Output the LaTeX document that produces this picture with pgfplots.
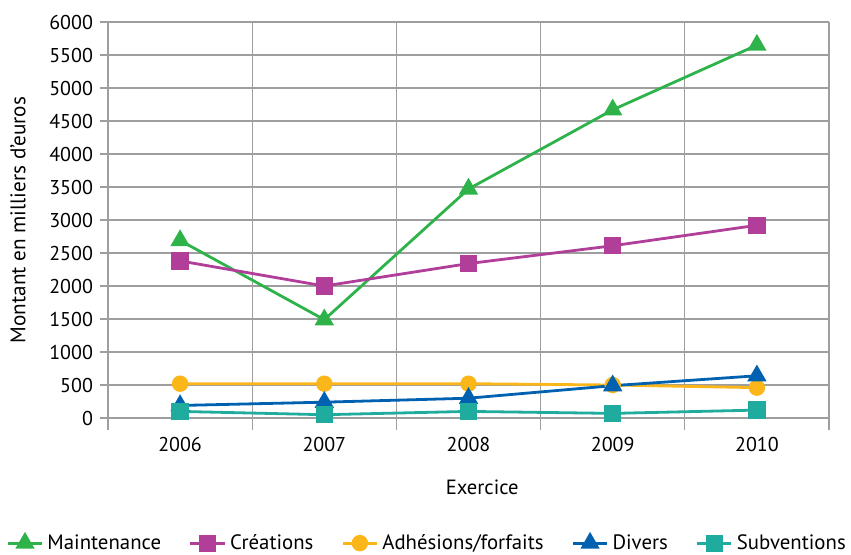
\documentclass[border=0pt]{standalone}
\usepackage{pgfplots}
\pgfplotsset{compat=1.18}
\usepackage{fontspec}
\setmainfont{PT Sans}

\definecolor{cMaint}{HTML}{2DB34A}
\definecolor{cCrea}{HTML}{B13F9A}
\definecolor{cAdh}{HTML}{FBB61A}
\definecolor{cDiv}{HTML}{0061B0}
\definecolor{cSub}{HTML}{1FAB9E}
\definecolor{gridgray}{HTML}{9E9E9E}

\newcommand{\chartfont}{\fontsize{10}{12}\selectfont}

\begin{document}
\begin{tikzpicture}
\chartfont
\useasboundingbox (-54pt,-68pt) rectangle (371.5pt,209pt);
\begin{axis}[
  at={(0,0)}, anchor=south west,
  scale only axis,
  width=360.5pt, height=198pt,
  xmin=-0.5, xmax=4.5,
  ymin=0, ymax=6000,
  xtick={0,1,2,3,4},
  xticklabels={2006,2007,2008,2009,2010},
  minor xtick={-0.5,0.5,1.5,2.5,3.5,4.5},
  xminorgrids=true,
  ytick={0,500,...,6000},
  ymajorgrids=true,
  grid style={gridgray, line width=0.6pt},
  minor grid style={gridgray, line width=0.6pt},
  axis line style={gridgray, line width=0.6pt},
  tick style={gridgray, line width=0.6pt},
  tick align=outside,
  major tick length=4pt,
  minor tick length=6pt,
  xtick style={/pgfplots/major tick length=0pt},
  axis x line*=bottom,
  axis y line*=left,
  /pgf/number format/assume math mode=true,
  scaled y ticks=false,
  yticklabel style={/pgf/number format/1000 sep={}, font=\chartfont},
  xticklabel style={font=\chartfont, yshift=-2pt},
  xlabel={Exercice},
  ylabel={Montant en milliers d'euros},
  xlabel style={at={(axis description cs:0.519,-0.174)}, anchor=center, font=\fontsize{10.3}{12}\selectfont},
  ylabel style={at={(axis description cs:-0.125,0.5)}, anchor=center, font=\fontsize{10.6}{12}\selectfont},
  legend style={at={(0.444,-0.316)}, anchor=center, draw=none, legend columns=5,
    font=\fontsize{10.4}{12}\selectfont,
    /tikz/every even column/.append style={column sep=12pt}},
  legend cell align=left,
  clip=false,
]
\addplot[cMaint, line width=1.4pt, mark=triangle*, mark size=4.2pt]
  coordinates {(0,2690) (1,1490) (2,3470) (3,4670) (4,5650)};
\addlegendentry{Maintenance}
\addplot[cCrea, line width=1.4pt, mark=square*, mark size=3.6pt]
  coordinates {(0,2380) (1,2000) (2,2340) (3,2610) (4,2920)};
\addlegendentry{Créations}
\addplot[cAdh, line width=1.4pt, mark=*, mark size=3.4pt]
  coordinates {(0,520) (1,520) (2,520) (3,500) (4,460)};
\addlegendentry{Adhésions/forfaits}
\addplot[cDiv, line width=1.4pt, mark=triangle*, mark size=4.2pt]
  coordinates {(0,190) (1,240) (2,300) (3,490) (4,640)};
\addlegendentry{Divers}
\addplot[cSub, line width=1.4pt, mark=square*, mark size=3.6pt]
  coordinates {(0,100) (1,50) (2,100) (3,70) (4,120)};
\addlegendentry{Subventions}
\end{axis}
\end{tikzpicture}
\end{document}
